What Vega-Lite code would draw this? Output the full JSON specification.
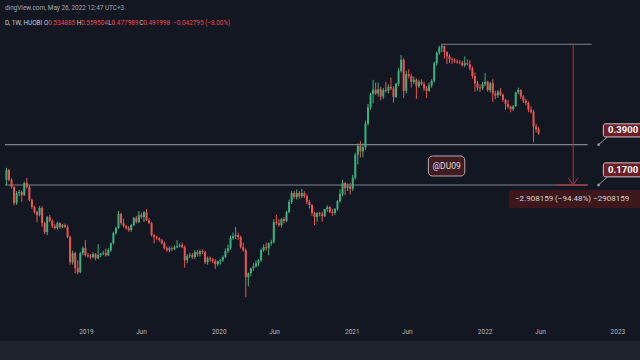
{
 "$schema": "https://vega.github.io/schema/vega-lite/v6.json",
 "width": 640, "height": 324,
 "autosize": {"type": "none"},
 "padding": {"left": 0, "right": 0, "top": 0, "bottom": 36},
 "background": "#131722",
 "config": {"view": {"fill": "#131722", "stroke": null}, "font": "Roboto"},
 "datasets": {
  "strip": [{"d": "2018-05-01", "d2": "2023-03-31", "p": 0.00686, "p2": 0.00445}],
  "ticks": [
   {"d": "2018-12-27", "p": 0.00826, "t": "2019"},
   {"d": "2019-05-27", "p": 0.00826, "t": "Jun"},
   {"d": "2019-12-27", "p": 0.00826, "t": "2020"},
   {"d": "2020-05-27", "p": 0.00826, "t": "Jun"},
   {"d": "2020-12-27", "p": 0.00826, "t": "2021"},
   {"d": "2021-05-27", "p": 0.00826, "t": "Jun"},
   {"d": "2021-12-27", "p": 0.00826, "t": "2022"},
   {"d": "2022-05-28", "p": 0.00826, "t": "Jun"},
   {"d": "2022-12-27", "p": 0.00826, "t": "2023"}
  ],
  "hl": [
   {"d": "2018-05-17", "d2": "2022-10-05", "p": 0.39},
   {"d": "2018-05-17", "d2": "2022-10-05", "p": 0.17},
   {"d": "2021-08-28", "d2": "2022-10-16", "p": 3.078159}
  ],
  "meas": [{"d": "2022-08-26", "p": 3.078159, "p2": 0.17}],
  "mh": [{"d": "2022-07-11", "d2": "2022-10-05", "p": 0.17}],
  "arrow": [
   {"d": "2022-08-12", "p": 0.197, "d2": "2022-08-26", "p2": 0.17},
   {"d": "2022-09-08", "p": 0.197, "d2": "2022-08-26", "p2": 0.17}
  ],
  "tails": [
   {"d": "2022-11-04", "p": 0.39, "d2": "2022-11-28", "p2": 0.457},
   {"d": "2022-11-04", "p": 0.17, "d2": "2022-11-28", "p2": 0.201}
  ],
  "boxes": [
   {"d": "2022-11-17", "d2": "2023-04-30", "p": 0.598, "p2": 0.457, "tx": "2022-11-30", "tp": 0.522, "t": "0.3900"},
   {"d": "2022-11-17", "d2": "2023-04-30", "p": 0.268, "p2": 0.201, "tx": "2022-11-30", "tp": 0.232, "t": "0.1700"}
  ],
  "mbox": [
   {"d": "2022-03-03", "d2": "2023-04-30", "p": 0.1534, "p2": 0.1059, "tx": "2022-03-19", "tp": 0.1275, "t": "−2.908159 (−94.48%) −2908159"}
  ],
  "wm": [
   {"d": "2021-07-24", "d2": "2021-11-01", "p": 0.3087, "p2": 0.2046, "tx": "2021-09-12", "tp": 0.2513, "t": "@DU09"}
  ],
  "hdr": [
   {"d": "2018-05-17", "p": 6.49, "t": "dingView.com, May 26, 2022 12:47 UTC+3", "k": "ttl"},
   {"d": "2018-05-17", "p": 4.74, "t": "D, 1W, HUOBI", "k": "lab"},
   {"d": "2018-09-01", "p": 4.74, "t": "O", "k": "lab"},
   {"d": "2018-09-13", "p": 4.74, "t": "0.534885", "k": "val"},
   {"d": "2018-11-30", "p": 4.74, "t": "H", "k": "lab"},
   {"d": "2018-12-12", "p": 4.74, "t": "0.559504", "k": "val"},
   {"d": "2019-02-25", "p": 4.74, "t": "L", "k": "lab"},
   {"d": "2019-03-06", "p": 4.74, "t": "0.477989", "k": "val"},
   {"d": "2019-05-21", "p": 4.74, "t": "C", "k": "lab"},
   {"d": "2019-06-01", "p": 4.74, "t": "0.491998", "k": "val"},
   {"d": "2019-08-22", "p": 4.74, "t": "−0.042795 (−8.00%)", "k": "val"}
  ],
  "cd": [
   {"d":"2018-05-21","o":0.189,"h":0.242,"l":0.170,"c":0.232},
   {"d":"2018-05-28","o":0.232,"h":0.236,"l":0.183,"c":0.189},
   {"d":"2018-06-04","o":0.189,"h":0.195,"l":0.158,"c":0.163},
   {"d":"2018-06-11","o":0.163,"h":0.167,"l":0.112,"c":0.117},
   {"d":"2018-06-18","o":0.117,"h":0.150,"l":0.113,"c":0.144},
   {"d":"2018-06-25","o":0.144,"h":0.153,"l":0.135,"c":0.147},
   {"d":"2018-07-02","o":0.147,"h":0.152,"l":0.120,"c":0.138},
   {"d":"2018-07-09","o":0.138,"h":0.182,"l":0.136,"c":0.177},
   {"d":"2018-07-16","o":0.177,"h":0.197,"l":0.158,"c":0.163},
   {"d":"2018-07-23","o":0.163,"h":0.170,"l":0.122,"c":0.125},
   {"d":"2018-07-30","o":0.125,"h":0.128,"l":0.104,"c":0.108},
   {"d":"2018-08-06","o":0.108,"h":0.111,"l":0.095,"c":0.0974},
   {"d":"2018-08-13","o":0.0974,"h":0.100,"l":0.079,"c":0.0915},
   {"d":"2018-08-20","o":0.0915,"h":0.110,"l":0.089,"c":0.106},
   {"d":"2018-08-27","o":0.106,"h":0.110,"l":0.072,"c":0.0776},
   {"d":"2018-09-03","o":0.0776,"h":0.080,"l":0.062,"c":0.0645},
   {"d":"2018-09-10","o":0.0645,"h":0.090,"l":0.0606,"c":0.0878},
   {"d":"2018-09-17","o":0.0878,"h":0.092,"l":0.079,"c":0.081},
   {"d":"2018-09-24","o":0.081,"h":0.084,"l":0.070,"c":0.0729},
   {"d":"2018-10-01","o":0.0729,"h":0.076,"l":0.068,"c":0.070},
   {"d":"2018-10-08","o":0.070,"h":0.080,"l":0.068,"c":0.0776},
   {"d":"2018-10-15","o":0.0776,"h":0.079,"l":0.069,"c":0.0714},
   {"d":"2018-10-22","o":0.0714,"h":0.076,"l":0.070,"c":0.0744},
   {"d":"2018-10-29","o":0.0744,"h":0.077,"l":0.070,"c":0.0714},
   {"d":"2018-11-05","o":0.0714,"h":0.075,"l":0.057,"c":0.0582},
   {"d":"2018-11-12","o":0.0582,"h":0.060,"l":0.033,"c":0.0347},
   {"d":"2018-11-19","o":0.0347,"h":0.044,"l":0.033,"c":0.0418},
   {"d":"2018-11-26","o":0.0418,"h":0.043,"l":0.0277,"c":0.0307},
   {"d":"2018-12-03","o":0.0307,"h":0.0362,"l":0.027,"c":0.0283},
   {"d":"2018-12-10","o":0.0283,"h":0.043,"l":0.0277,"c":0.0418},
   {"d":"2018-12-17","o":0.0418,"h":0.048,"l":0.040,"c":0.0463},
   {"d":"2018-12-24","o":0.0463,"h":0.0547,"l":0.039,"c":0.0401},
   {"d":"2018-12-31","o":0.0401,"h":0.042,"l":0.038,"c":0.0393},
   {"d":"2019-01-07","o":0.0393,"h":0.041,"l":0.037,"c":0.0385},
   {"d":"2019-01-14","o":0.0385,"h":0.0425,"l":0.0377,"c":0.041},
   {"d":"2019-01-21","o":0.041,"h":0.0418,"l":0.0362,"c":0.0377},
   {"d":"2019-01-28","o":0.0377,"h":0.0503,"l":0.0369,"c":0.0401},
   {"d":"2019-02-04","o":0.0401,"h":0.042,"l":0.0385,"c":0.041},
   {"d":"2019-02-11","o":0.041,"h":0.044,"l":0.0401,"c":0.0418},
   {"d":"2019-02-18","o":0.0418,"h":0.046,"l":0.039,"c":0.0401},
   {"d":"2019-02-25","o":0.0401,"h":0.0463,"l":0.0393,"c":0.0445},
   {"d":"2019-03-04","o":0.0445,"h":0.052,"l":0.043,"c":0.0514},
   {"d":"2019-03-11","o":0.0514,"h":0.065,"l":0.050,"c":0.0632},
   {"d":"2019-03-18","o":0.0632,"h":0.072,"l":0.061,"c":0.070},
   {"d":"2019-03-25","o":0.070,"h":0.0995,"l":0.069,"c":0.0935},
   {"d":"2019-04-01","o":0.0935,"h":0.096,"l":0.075,"c":0.0776},
   {"d":"2019-04-08","o":0.0776,"h":0.085,"l":0.071,"c":0.0729},
   {"d":"2019-04-15","o":0.0729,"h":0.075,"l":0.068,"c":0.070},
   {"d":"2019-04-22","o":0.070,"h":0.0729,"l":0.065,"c":0.0672},
   {"d":"2019-04-29","o":0.0672,"h":0.076,"l":0.065,"c":0.0744},
   {"d":"2019-05-06","o":0.0744,"h":0.088,"l":0.073,"c":0.086},
   {"d":"2019-05-13","o":0.086,"h":0.090,"l":0.077,"c":0.0792},
   {"d":"2019-05-20","o":0.0792,"h":0.0995,"l":0.0776,"c":0.0915},
   {"d":"2019-05-27","o":0.0915,"h":0.096,"l":0.085,"c":0.0878},
   {"d":"2019-06-03","o":0.0878,"h":0.099,"l":0.0792,"c":0.0974},
   {"d":"2019-06-10","o":0.0974,"h":0.1036,"l":0.081,"c":0.0826},
   {"d":"2019-06-17","o":0.0826,"h":0.086,"l":0.076,"c":0.0776},
   {"d":"2019-06-24","o":0.0776,"h":0.080,"l":0.059,"c":0.0606},
   {"d":"2019-07-01","o":0.0606,"h":0.062,"l":0.0514,"c":0.0582},
   {"d":"2019-07-08","o":0.0582,"h":0.060,"l":0.055,"c":0.057},
   {"d":"2019-07-15","o":0.057,"h":0.058,"l":0.053,"c":0.0547},
   {"d":"2019-07-22","o":0.0547,"h":0.056,"l":0.050,"c":0.0514},
   {"d":"2019-07-29","o":0.0514,"h":0.053,"l":0.045,"c":0.0463},
   {"d":"2019-08-05","o":0.0463,"h":0.048,"l":0.043,"c":0.0445},
   {"d":"2019-08-12","o":0.0445,"h":0.048,"l":0.0427,"c":0.0463},
   {"d":"2019-08-19","o":0.0463,"h":0.048,"l":0.0436,"c":0.0454},
   {"d":"2019-08-26","o":0.0454,"h":0.049,"l":0.0445,"c":0.0473},
   {"d":"2019-09-02","o":0.0473,"h":0.0547,"l":0.0463,"c":0.0483},
   {"d":"2019-09-09","o":0.0483,"h":0.051,"l":0.047,"c":0.0493},
   {"d":"2019-09-16","o":0.0493,"h":0.052,"l":0.0463,"c":0.0473},
   {"d":"2019-09-23","o":0.0473,"h":0.049,"l":0.031,"c":0.0362},
   {"d":"2019-09-30","o":0.0362,"h":0.041,"l":0.034,"c":0.0393},
   {"d":"2019-10-07","o":0.0393,"h":0.042,"l":0.038,"c":0.0401},
   {"d":"2019-10-14","o":0.0401,"h":0.042,"l":0.037,"c":0.0385},
   {"d":"2019-10-21","o":0.0385,"h":0.0445,"l":0.0369,"c":0.0427},
   {"d":"2019-10-28","o":0.0427,"h":0.0445,"l":0.039,"c":0.041},
   {"d":"2019-11-04","o":0.041,"h":0.045,"l":0.039,"c":0.0436},
   {"d":"2019-11-11","o":0.0436,"h":0.045,"l":0.041,"c":0.0427},
   {"d":"2019-11-18","o":0.0427,"h":0.044,"l":0.0333,"c":0.0347},
   {"d":"2019-11-25","o":0.0347,"h":0.039,"l":0.033,"c":0.0377},
   {"d":"2019-12-02","o":0.0377,"h":0.039,"l":0.035,"c":0.0369},
   {"d":"2019-12-09","o":0.0369,"h":0.038,"l":0.034,"c":0.0355},
   {"d":"2019-12-16","o":0.0355,"h":0.037,"l":0.0301,"c":0.0333},
   {"d":"2019-12-23","o":0.0333,"h":0.036,"l":0.032,"c":0.0355},
   {"d":"2019-12-30","o":0.0355,"h":0.037,"l":0.033,"c":0.0362},
   {"d":"2020-01-06","o":0.0362,"h":0.040,"l":0.035,"c":0.0385},
   {"d":"2020-01-13","o":0.0385,"h":0.046,"l":0.038,"c":0.0436},
   {"d":"2020-01-20","o":0.0436,"h":0.050,"l":0.042,"c":0.0463},
   {"d":"2020-01-27","o":0.0463,"h":0.060,"l":0.045,"c":0.057},
   {"d":"2020-02-03","o":0.057,"h":0.064,"l":0.055,"c":0.0594},
   {"d":"2020-02-10","o":0.0594,"h":0.0714,"l":0.056,"c":0.0606},
   {"d":"2020-02-17","o":0.0606,"h":0.064,"l":0.055,"c":0.0582},
   {"d":"2020-02-24","o":0.0582,"h":0.060,"l":0.046,"c":0.0473},
   {"d":"2020-03-02","o":0.0473,"h":0.052,"l":0.043,"c":0.0445},
   {"d":"2020-03-09","o":0.0445,"h":0.046,"l":0.0169,"c":0.0255},
   {"d":"2020-03-16","o":0.0255,"h":0.028,"l":0.0211,"c":0.0277},
   {"d":"2020-03-23","o":0.0277,"h":0.031,"l":0.026,"c":0.0307},
   {"d":"2020-03-30","o":0.0307,"h":0.034,"l":0.029,"c":0.032},
   {"d":"2020-04-06","o":0.032,"h":0.036,"l":0.031,"c":0.034},
   {"d":"2020-04-13","o":0.034,"h":0.037,"l":0.032,"c":0.0362},
   {"d":"2020-04-20","o":0.0362,"h":0.046,"l":0.035,"c":0.0445},
   {"d":"2020-04-27","o":0.0445,"h":0.050,"l":0.043,"c":0.0473},
   {"d":"2020-05-04","o":0.0473,"h":0.052,"l":0.044,"c":0.0463},
   {"d":"2020-05-11","o":0.0463,"h":0.052,"l":0.040,"c":0.0514},
   {"d":"2020-05-18","o":0.0514,"h":0.055,"l":0.049,"c":0.0525},
   {"d":"2020-05-25","o":0.0525,"h":0.084,"l":0.051,"c":0.0792},
   {"d":"2020-06-01","o":0.0792,"h":0.092,"l":0.075,"c":0.0776},
   {"d":"2020-06-08","o":0.0776,"h":0.084,"l":0.072,"c":0.0744},
   {"d":"2020-06-15","o":0.0744,"h":0.086,"l":0.071,"c":0.0843},
   {"d":"2020-06-22","o":0.0843,"h":0.088,"l":0.077,"c":0.0809},
   {"d":"2020-06-29","o":0.0809,"h":0.100,"l":0.079,"c":0.0974},
   {"d":"2020-07-06","o":0.0974,"h":0.126,"l":0.095,"c":0.1198},
   {"d":"2020-07-13","o":0.1198,"h":0.150,"l":0.115,"c":0.144},
   {"d":"2020-07-20","o":0.144,"h":0.150,"l":0.128,"c":0.1327},
   {"d":"2020-07-27","o":0.1327,"h":0.155,"l":0.126,"c":0.144},
   {"d":"2020-08-03","o":0.144,"h":0.150,"l":0.128,"c":0.135},
   {"d":"2020-08-10","o":0.135,"h":0.157,"l":0.130,"c":0.144},
   {"d":"2020-08-17","o":0.144,"h":0.150,"l":0.130,"c":0.135},
   {"d":"2020-08-24","o":0.135,"h":0.140,"l":0.115,"c":0.120},
   {"d":"2020-08-31","o":0.120,"h":0.125,"l":0.105,"c":0.1125},
   {"d":"2020-09-07","o":0.1125,"h":0.115,"l":0.090,"c":0.0955},
   {"d":"2020-09-14","o":0.0955,"h":0.098,"l":0.0744,"c":0.088},
   {"d":"2020-09-21","o":0.088,"h":0.097,"l":0.080,"c":0.0955},
   {"d":"2020-09-28","o":0.0955,"h":0.098,"l":0.089,"c":0.0935},
   {"d":"2020-10-05","o":0.0935,"h":0.098,"l":0.080,"c":0.0897},
   {"d":"2020-10-12","o":0.0897,"h":0.104,"l":0.088,"c":0.1036},
   {"d":"2020-10-19","o":0.1036,"h":0.112,"l":0.098,"c":0.108},
   {"d":"2020-10-26","o":0.108,"h":0.110,"l":0.095,"c":0.0974},
   {"d":"2020-11-02","o":0.0974,"h":0.103,"l":0.090,"c":0.0955},
   {"d":"2020-11-09","o":0.0955,"h":0.106,"l":0.092,"c":0.1036},
   {"d":"2020-11-16","o":0.1036,"h":0.125,"l":0.100,"c":0.122},
   {"d":"2020-11-23","o":0.122,"h":0.155,"l":0.118,"c":0.141},
   {"d":"2020-11-30","o":0.141,"h":0.189,"l":0.135,"c":0.177},
   {"d":"2020-12-07","o":0.177,"h":0.180,"l":0.138,"c":0.160},
   {"d":"2020-12-14","o":0.160,"h":0.175,"l":0.150,"c":0.166},
   {"d":"2020-12-21","o":0.166,"h":0.177,"l":0.140,"c":0.157},
   {"d":"2020-12-28","o":0.157,"h":0.210,"l":0.150,"c":0.197},
   {"d":"2021-01-04","o":0.197,"h":0.330,"l":0.190,"c":0.316},
   {"d":"2021-01-11","o":0.316,"h":0.400,"l":0.260,"c":0.380},
   {"d":"2021-01-18","o":0.380,"h":0.420,"l":0.300,"c":0.340},
   {"d":"2021-01-25","o":0.340,"h":0.400,"l":0.300,"c":0.370},
   {"d":"2021-02-01","o":0.370,"h":0.640,"l":0.350,"c":0.600},
   {"d":"2021-02-08","o":0.600,"h":0.900,"l":0.580,"c":0.840},
   {"d":"2021-02-15","o":0.840,"h":1.130,"l":0.800,"c":1.100},
   {"d":"2021-02-22","o":1.100,"h":1.480,"l":0.910,"c":1.210},
   {"d":"2021-03-01","o":1.21,"h":1.40,"l":1.08,"c":1.12},
   {"d":"2021-03-08","o":1.12,"h":1.40,"l":1.05,"c":1.22},
   {"d":"2021-03-15","o":1.22,"h":1.28,"l":0.97,"c":1.05},
   {"d":"2021-03-22","o":1.05,"h":1.25,"l":1.00,"c":1.20},
   {"d":"2021-03-29","o":1.20,"h":1.42,"l":1.14,"c":1.18},
   {"d":"2021-04-05","o":1.18,"h":1.35,"l":1.12,"c":1.28},
   {"d":"2021-04-12","o":1.28,"h":1.55,"l":1.20,"c":1.24},
   {"d":"2021-04-19","o":1.24,"h":1.30,"l":0.93,"c":1.04},
   {"d":"2021-04-26","o":1.04,"h":1.40,"l":1.02,"c":1.36},
   {"d":"2021-05-03","o":1.36,"h":1.88,"l":1.30,"c":1.78},
   {"d":"2021-05-10","o":1.78,"h":2.47,"l":1.72,"c":2.24},
   {"d":"2021-05-17","o":2.24,"h":2.30,"l":1.02,"c":1.18},
   {"d":"2021-05-24","o":1.18,"h":1.78,"l":1.12,"c":1.66},
   {"d":"2021-05-31","o":1.66,"h":1.84,"l":1.52,"c":1.60},
   {"d":"2021-06-07","o":1.60,"h":1.68,"l":1.26,"c":1.42},
   {"d":"2021-06-14","o":1.42,"h":1.58,"l":1.36,"c":1.48},
   {"d":"2021-06-21","o":1.48,"h":1.52,"l":1.00,"c":1.30},
   {"d":"2021-06-28","o":1.30,"h":1.48,"l":1.25,"c":1.42},
   {"d":"2021-07-05","o":1.42,"h":1.50,"l":1.32,"c":1.36},
   {"d":"2021-07-12","o":1.36,"h":1.42,"l":1.18,"c":1.24},
   {"d":"2021-07-19","o":1.24,"h":1.30,"l":1.02,"c":1.18},
   {"d":"2021-07-26","o":1.18,"h":1.40,"l":1.16,"c":1.32},
   {"d":"2021-08-02","o":1.32,"h":1.50,"l":1.26,"c":1.45},
   {"d":"2021-08-09","o":1.45,"h":2.15,"l":1.40,"c":2.08},
   {"d":"2021-08-16","o":2.08,"h":2.65,"l":1.98,"c":2.58},
   {"d":"2021-08-23","o":2.58,"h":2.98,"l":2.48,"c":2.88},
   {"d":"2021-08-30","o":2.88,"h":3.078159,"l":2.62,"c":2.96},
   {"d":"2021-09-06","o":2.96,"h":3.00,"l":2.30,"c":2.62},
   {"d":"2021-09-13","o":2.62,"h":2.66,"l":2.05,"c":2.40},
   {"d":"2021-09-20","o":2.40,"h":2.50,"l":2.10,"c":2.26},
   {"d":"2021-09-27","o":2.26,"h":2.35,"l":2.06,"c":2.22},
   {"d":"2021-10-04","o":2.22,"h":2.30,"l":2.10,"c":2.16},
   {"d":"2021-10-11","o":2.16,"h":2.26,"l":2.06,"c":2.12},
   {"d":"2021-10-18","o":2.12,"h":2.22,"l":2.04,"c":2.10},
   {"d":"2021-10-25","o":2.10,"h":2.20,"l":1.95,"c":2.00},
   {"d":"2021-11-01","o":2.00,"h":2.40,"l":1.92,"c":2.08},
   {"d":"2021-11-08","o":2.08,"h":2.25,"l":1.98,"c":2.04},
   {"d":"2021-11-15","o":2.04,"h":2.22,"l":1.80,"c":1.88},
   {"d":"2021-11-22","o":1.88,"h":1.95,"l":1.52,"c":1.60},
   {"d":"2021-11-29","o":1.60,"h":1.72,"l":1.16,"c":1.38},
   {"d":"2021-12-06","o":1.38,"h":1.45,"l":1.18,"c":1.26},
   {"d":"2021-12-13","o":1.26,"h":1.35,"l":1.16,"c":1.24},
   {"d":"2021-12-20","o":1.24,"h":1.42,"l":1.20,"c":1.36},
   {"d":"2021-12-27","o":1.36,"h":1.70,"l":1.30,"c":1.42},
   {"d":"2022-01-03","o":1.42,"h":1.45,"l":1.16,"c":1.20},
   {"d":"2022-01-10","o":1.20,"h":1.42,"l":1.14,"c":1.38},
   {"d":"2022-01-17","o":1.38,"h":1.50,"l":0.94,"c":1.12},
   {"d":"2022-01-24","o":1.12,"h":1.18,"l":0.99,"c":1.07},
   {"d":"2022-01-31","o":1.07,"h":1.20,"l":1.02,"c":1.16},
   {"d":"2022-02-07","o":1.16,"h":1.25,"l":1.06,"c":1.09},
   {"d":"2022-02-14","o":1.09,"h":1.12,"l":0.94,"c":0.98},
   {"d":"2022-02-21","o":0.98,"h":1.00,"l":0.80,"c":0.90},
   {"d":"2022-02-28","o":0.90,"h":0.98,"l":0.82,"c":0.85},
   {"d":"2022-03-07","o":0.85,"h":0.87,"l":0.76,"c":0.81},
   {"d":"2022-03-14","o":0.81,"h":0.88,"l":0.78,"c":0.86},
   {"d":"2022-03-21","o":0.86,"h":1.16,"l":0.85,"c":1.14},
   {"d":"2022-03-28","o":1.14,"h":1.26,"l":1.10,"c":1.20},
   {"d":"2022-04-04","o":1.20,"h":1.22,"l":1.00,"c":1.05},
   {"d":"2022-04-11","o":1.05,"h":1.08,"l":0.92,"c":0.96},
   {"d":"2022-04-18","o":0.96,"h":1.00,"l":0.88,"c":0.92},
   {"d":"2022-04-25","o":0.92,"h":0.95,"l":0.76,"c":0.80},
   {"d":"2022-05-02","o":0.80,"h":0.86,"l":0.74,"c":0.766},
   {"d":"2022-05-09","o":0.766,"h":0.80,"l":0.41,"c":0.565},
   {"d":"2022-05-16","o":0.565,"h":0.60,"l":0.50,"c":0.535},
   {"d":"2022-05-23","o":0.534885,"h":0.559504,"l":0.477989,"c":0.491998}
  ]
 },
 "encoding": {
  "x": {"field": "d", "type": "temporal", "title": null,
   "scale": {"type": "utc", "domain": [1526515200000, 1676160000000]},
   "axis": null
  },
  "y": {"field": "p", "type": "quantitative", "title": null, "scale": {"type": "log", "domain": [0.009734, 7.65]}, "axis": null}
 },
 "layer": [
  {"data": {"name": "strip"}, "mark": {"type": "rect", "fill": "#1e222d"}, "encoding": {"x2": {"field": "d2"}, "y2": {"field": "p2"}}},
  {"data": {"name": "hl"}, "mark": {"type": "rule", "color": "#80838d", "strokeWidth": 1.2},
   "encoding": {
    "x": {"field": "d", "type": "temporal", "title": null,
     "scale": {"type": "utc", "domain": [1526515200000, 1676160000000]},
     "axis": {"orient": "bottom", "labels": false, "ticks": false, "grid": false, "domain": true, "domainColor": "#2a2e39", "domainWidth": 1}
    },
    "x2": {"field": "d2"}
   }},
  {"data": {"name": "ticks"}, "mark": {"type": "text", "align": "center", "baseline": "middle", "color": "#b2b5be", "fontSize": 6.5}, "encoding": {"text": {"field": "t"}}},
  {"data": {"name": "cd"}, "mark": {"type": "rule", "strokeWidth": 1},
   "encoding": {
    "y": {"field": "l", "type": "quantitative", "scale": {"type": "log", "domain": [0.009734, 7.65]}, "axis": null},
    "y2": {"field": "h"},
    "color": {"condition": {"test": "datum.c >= datum.o", "value": "#36b37e"}, "value": "#ef5350"}
   }},
  {"data": {"name": "cd"}, "mark": {"type": "bar", "size": 2},
   "encoding": {
    "y": {"field": "o", "type": "quantitative", "scale": {"type": "log", "domain": [0.009734, 7.65]}, "axis": null},
    "y2": {"field": "c"},
    "color": {"condition": {"test": "datum.c >= datum.o", "value": "#36b37e"}, "value": "#ef5350"}
   }},
  {"data": {"name": "meas"}, "mark": {"type": "rule", "color": "#b2313b", "strokeWidth": 1}, "encoding": {"y2": {"field": "p2"}}},
  {"data": {"name": "mh"}, "mark": {"type": "rule", "color": "#b2313b", "strokeWidth": 1.2}, "encoding": {"x2": {"field": "d2"}}},
  {"data": {"name": "arrow"}, "mark": {"type": "rule", "color": "#b2313b", "strokeWidth": 1}, "encoding": {"x2": {"field": "d2"}, "y2": {"field": "p2"}}},
  {"data": {"name": "tails"}, "mark": {"type": "rule", "color": "#9598a1", "strokeWidth": 1}, "encoding": {"x2": {"field": "d2"}, "y2": {"field": "p2"}}},
  {"data": {"name": "tails"}, "mark": {"type": "circle", "size": 8, "color": "#9598a1", "opacity": 1}},
  {"data": {"name": "boxes"}, "mark": {"type": "rect", "fill": "#6f1d24", "stroke": "#d5c5c7", "strokeWidth": 1, "cornerRadius": 2}, "encoding": {"x2": {"field": "d2"}, "y2": {"field": "p2"}}},
  {"data": {"name": "boxes"}, "mark": {"type": "text", "align": "left", "baseline": "middle", "color": "#ffffff", "fontSize": 9.5, "fontWeight": "bold"},
   "encoding": {
    "x": {"field": "tx", "type": "temporal", "scale": {"type": "utc", "domain": [1526515200000, 1676160000000]}, "axis": null},
    "y": {"field": "tp", "type": "quantitative", "scale": {"type": "log", "domain": [0.009734, 7.65]}, "axis": null},
    "text": {"field": "t"}
   }},
  {"data": {"name": "mbox"}, "mark": {"type": "rect", "fill": "#3d171c"}, "encoding": {"x2": {"field": "d2"}, "y2": {"field": "p2"}}},
  {"data": {"name": "mbox"}, "mark": {"type": "text", "align": "left", "baseline": "middle", "color": "#d1d4dc", "fontSize": 8},
   "encoding": {
    "x": {"field": "tx", "type": "temporal", "scale": {"type": "utc", "domain": [1526515200000, 1676160000000]}, "axis": null},
    "y": {"field": "tp", "type": "quantitative", "scale": {"type": "log", "domain": [0.009734, 7.65]}, "axis": null},
    "text": {"field": "t"}
   }},
  {"data": {"name": "wm"}, "mark": {"type": "rect", "fill": "#401b21", "stroke": "#b7a9ac", "strokeWidth": 1, "cornerRadius": 4}, "encoding": {"x2": {"field": "d2"}, "y2": {"field": "p2"}}},
  {"data": {"name": "wm"}, "mark": {"type": "text", "align": "center", "baseline": "middle", "color": "#e6dcde", "fontSize": 8.5},
   "encoding": {
    "x": {"field": "tx", "type": "temporal", "scale": {"type": "utc", "domain": [1526515200000, 1676160000000]}, "axis": null},
    "y": {"field": "tp", "type": "quantitative", "scale": {"type": "log", "domain": [0.009734, 7.65]}, "axis": null},
    "text": {"field": "t"}
   }},
  {"data": {"name": "hdr"}, "mark": {"type": "text", "align": "left", "baseline": "middle", "fontSize": 6.4},
   "encoding": {
    "text": {"field": "t"},
    "color": {"field": "k", "type": "nominal", "scale": {"domain": ["lab", "val", "ttl"], "range": ["#c9ccd4", "#f0444f", "#a3a6af"]}, "legend": null}
   }}
 ]
}
